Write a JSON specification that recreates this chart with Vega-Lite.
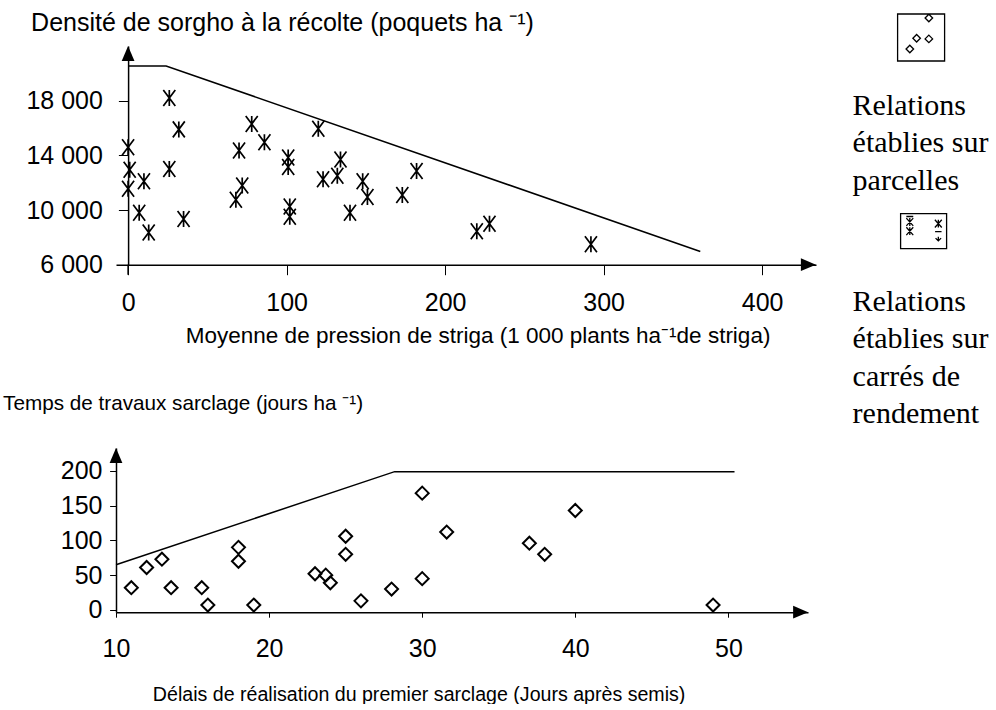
{
  "$schema": "https://vega.github.io/schema/vega-lite/v6.json",
  "background": "white",
  "padding": {"left": 2, "top": 10, "right": 0, "bottom": 0},
  "bounds": "flush",
  "spacing": 183,
  "datasets": {
    "carres": [
      {"pression": 26, "densite": 18200, "source": "carrés de rendement"},
      {"pression": 32, "densite": 15900, "source": "carrés de rendement"},
      {"pression": 0, "densite": 14600, "source": "carrés de rendement"},
      {"pression": 78, "densite": 16300, "source": "carrés de rendement"},
      {"pression": 86, "densite": 14950, "source": "carrés de rendement"},
      {"pression": 70, "densite": 14350, "source": "carrés de rendement"},
      {"pression": 120, "densite": 15950, "source": "carrés de rendement"},
      {"pression": 101, "densite": 13150, "source": "carrés de rendement"},
      {"pression": 101, "densite": 13850, "source": "carrés de rendement"},
      {"pression": 26, "densite": 13000, "source": "carrés de rendement"},
      {"pression": 1, "densite": 12950, "source": "carrés de rendement"},
      {"pression": 10, "densite": 12100, "source": "carrés de rendement"},
      {"pression": 0, "densite": 11550, "source": "carrés de rendement"},
      {"pression": 7, "densite": 9800, "source": "carrés de rendement"},
      {"pression": 13, "densite": 8350, "source": "carrés de rendement"},
      {"pression": 35, "densite": 9350, "source": "carrés de rendement"},
      {"pression": 68, "densite": 10750, "source": "carrés de rendement"},
      {"pression": 72, "densite": 11800, "source": "carrés de rendement"},
      {"pression": 102, "densite": 9500, "source": "carrés de rendement"},
      {"pression": 102, "densite": 10250, "source": "carrés de rendement"},
      {"pression": 132, "densite": 12500, "source": "carrés de rendement"},
      {"pression": 134, "densite": 13700, "source": "carrés de rendement"},
      {"pression": 123, "densite": 12250, "source": "carrés de rendement"},
      {"pression": 140, "densite": 9800, "source": "carrés de rendement"},
      {"pression": 148, "densite": 12100, "source": "carrés de rendement"},
      {"pression": 151, "densite": 10950, "source": "carrés de rendement"},
      {"pression": 182, "densite": 12850, "source": "carrés de rendement"},
      {"pression": 173, "densite": 11100, "source": "carrés de rendement"},
      {"pression": 228, "densite": 9000, "source": "carrés de rendement"},
      {"pression": 220, "densite": 8450, "source": "carrés de rendement"},
      {"pression": 292, "densite": 7500, "source": "carrés de rendement"}
    ],
    "parcelles": [
      {"delai": 11, "temps": 32, "source": "parcelles"},
      {"delai": 12, "temps": 61, "source": "parcelles"},
      {"delai": 13, "temps": 73, "source": "parcelles"},
      {"delai": 13.6, "temps": 32, "source": "parcelles"},
      {"delai": 15.6, "temps": 32, "source": "parcelles"},
      {"delai": 16, "temps": 7, "source": "parcelles"},
      {"delai": 18, "temps": 90, "source": "parcelles"},
      {"delai": 18, "temps": 70, "source": "parcelles"},
      {"delai": 19, "temps": 7, "source": "parcelles"},
      {"delai": 23, "temps": 52, "source": "parcelles"},
      {"delai": 23.7, "temps": 50, "source": "parcelles"},
      {"delai": 24, "temps": 39, "source": "parcelles"},
      {"delai": 25, "temps": 106, "source": "parcelles"},
      {"delai": 25, "temps": 80, "source": "parcelles"},
      {"delai": 26, "temps": 13, "source": "parcelles"},
      {"delai": 28, "temps": 30, "source": "parcelles"},
      {"delai": 30, "temps": 168, "source": "parcelles"},
      {"delai": 30, "temps": 45, "source": "parcelles"},
      {"delai": 31.6, "temps": 112, "source": "parcelles"},
      {"delai": 37, "temps": 96, "source": "parcelles"},
      {"delai": 38, "temps": 80, "source": "parcelles"},
      {"delai": 40, "temps": 143, "source": "parcelles"},
      {"delai": 49, "temps": 7, "source": "parcelles"}
    ],
    "limite_densite": [
      {"pression": 0, "densite": 20540},
      {"pression": 24, "densite": 20540},
      {"pression": 361, "densite": 6970}
    ],
    "limite_temps": [
      {"delai": 10, "temps": 65},
      {"delai": 28.2, "temps": 199},
      {"delai": 50.4, "temps": 199}
    ]
  },
  "vconcat": [
    {
      "width": 700,
      "height": 218.7,
      "layer": [
        {
          "data": {"name": "limite_densite"},
          "mark": {"type": "line", "color": "black", "strokeWidth": 1.5},
          "encoding": {
            "x": {
              "field": "pression", "type": "quantitative",
              "scale": {"domain": [-7.63, 434], "nice": false, "zero": false},
              "axis": {
                "values": [0, 100, 200, 300, 400],
                "tickSize": 10, "labelPadding": 16, "labelFlush": false,
                "title": "Moyenne de pression de striga (1 000 plants ha⁻¹de striga)",
                "titleFontSize": 22.5,
                "titleX": 361.6, "titleY": 78, "titleAlign": "center", "titleBaseline": "alphabetic"
              }
            },
            "y": {
              "field": "densite", "type": "quantitative",
              "scale": {"domain": [6000, 22000], "nice": false, "zero": false},
              "axis": {
                "values": [6000, 10000, 14000, 18000],
                "offset": -12.1, "tickSize": 9.7, "labelPadding": 16, "labelFlush": false,
                "labelExpr": "replace(format(datum.value, ','), ',', ' ')",
                "title": "Densité de sorgho à la récolte (poquets ha ⁻¹)",
                "titleFontSize": 25,
                "titleAngle": 0, "titleX": -97.5, "titleY": -16,
                "titleAlign": "left", "titleBaseline": "alphabetic"
              }
            }
          }
        },
        {
          "data": {"values": [{}]},
          "mark": {"type": "rule", "color": "black", "strokeWidth": 1.5},
          "encoding": {"x": {"datum": 0}, "y": {"datum": 6000}, "y2": {"datum": 5270}}
        },
        {
          "data": {"name": "carres"},
          "mark": {"type": "point", "shape": "M-0.75,-1L0.75,1M-0.75,1L0.75,-1M0,-1L0,1", "size": 256, "filled": false, "strokeWidth": 1.7, "opacity": 1},
          "encoding": {
            "x": {"field": "pression", "type": "quantitative"},
            "y": {"field": "densite", "type": "quantitative"},
            "color": {
              "field": "source", "type": "nominal",
              "scale": {"range": ["black"]},
              "legend": {
                "orient": "none", "legendX": 736.6, "legendY": 161.2, "padding": 0,
                "title": ["Relations", "établies sur", "carrés de", "rendement"],
                "titleOrient": "bottom", "titleAnchor": "start", "titleAlign": "left", "titleBaseline": "top",
                "titleFont": "Liberation Serif", "titleFontSize": 30, "titleFontWeight": "normal", "titleColor": "black",
                "titleLineHeight": 37.3, "titlePadding": 36, "titleLimit": 400,
                "symbolType": "M-1,-0.76H1V0.76H-1Z M-0.75,-0.57L-0.45,-0.23M-0.75,-0.23L-0.45,-0.57M-0.6,-0.57L-0.6,-0.23 M-0.75,-0.17L-0.45,0.17M-0.75,0.17L-0.45,-0.17M-0.6,-0.17L-0.6,0.17 M0.49,-0.5L0.79,-0.16M0.49,-0.16L0.79,-0.5M0.64,-0.5L0.64,-0.16 M0.52,0.3L0.64,0.42L0.76,0.3M0.64,0.24L0.64,0.42 M0.5,0.02H0.78 M-0.75,-0.64H-0.45",
                "symbolSize": 2116, "symbolOffset": 47,
                "symbolStrokeColor": "black", "symbolStrokeWidth": 1.3, "symbolFillColor": "white",
                "labelExpr": "''"
              }
            }
          }
        },
        {
          "data": {"values": [{}]},
          "mark": {"type": "point", "shape": "M-1,-0.85L1,0L-1,0.85Z", "size": 225, "filled": true, "color": "black", "opacity": 1},
          "encoding": {"x": {"datum": 429.2}, "y": {"datum": 6000}}
        },
        {
          "data": {"values": [{}]},
          "mark": {"type": "point", "shape": "M0,-1L0.85,1L-0.85,1Z", "size": 225, "filled": true, "color": "black", "opacity": 1},
          "encoding": {"x": {"datum": 0}, "y": {"datum": 21454}}
        }
      ]
    },
    {
      "width": 692,
      "height": 164.2,
      "layer": [
        {
          "data": {"name": "limite_temps"},
          "mark": {"type": "line", "color": "black", "strokeWidth": 1.5},
          "encoding": {
            "x": {
              "field": "delai", "type": "quantitative",
              "scale": {"domain": [10, 55.2], "nice": false, "zero": false},
              "axis": {
                "values": [10, 20, 30, 40, 50],
                "tickSize": 5, "labelPadding": 19, "labelFlush": false,
                "title": "Délais de réalisation du premier sarclage (Jours après semis)",
                "titleFontSize": 19.6,
                "titleX": 302.6, "titleY": 88, "titleAlign": "center", "titleBaseline": "alphabetic"
              }
            },
            "y": {
              "field": "temps", "type": "quantitative",
              "scale": {"domain": [-3.3, 233], "nice": false, "zero": false},
              "axis": {
                "values": [0, 50, 100, 150, 200],
                "tickSize": 6.4, "labelPadding": 7.6, "labelFlush": false,
                "title": "Temps de travaux sarclage (jours ha ⁻¹)",
                "titleFontSize": 20.7,
                "titleAngle": 0, "titleX": -113.4, "titleY": -39,
                "titleAlign": "left", "titleBaseline": "alphabetic"
              }
            }
          }
        },
        {
          "data": {"name": "parcelles"},
          "mark": {"type": "point", "shape": "diamond", "size": 169, "filled": false, "strokeWidth": 2, "opacity": 1},
          "encoding": {
            "x": {"field": "delai", "type": "quantitative"},
            "y": {"field": "temps", "type": "quantitative"},
            "color": {
              "field": "source", "type": "nominal",
              "scale": {"range": ["black"]},
              "legend": {
                "orient": "none", "legendX": 736.6, "legendY": -435, "padding": 0,
                "title": ["Relations", "établies sur", "parcelles"],
                "titleOrient": "bottom", "titleAnchor": "start", "titleAlign": "left", "titleBaseline": "top",
                "titleFont": "Liberation Serif", "titleFontSize": 30, "titleFontWeight": "normal", "titleColor": "black",
                "titleLineHeight": 37.3, "titlePadding": 27, "titleLimit": 400,
                "symbolType": "M-1,-1H1V1H-1Z M0.33,-0.99L0.49,-0.83L0.33,-0.67L0.17,-0.83Z M-0.19,-0.13L-0.03,0.03L-0.19,0.19L-0.35,0.03Z M0.33,-0.1L0.49,0.06L0.33,0.22L0.17,0.06Z M-0.48,0.33L-0.32,0.49L-0.48,0.65L-0.64,0.49Z",
                "symbolSize": 2209, "symbolOffset": 44,
                "symbolStrokeColor": "black", "symbolStrokeWidth": 1.3, "symbolFillColor": "white",
                "labelExpr": "''"
              }
            }
          }
        },
        {
          "data": {"values": [{}]},
          "mark": {"type": "point", "shape": "M-1,-0.85L1,0L-1,0.85Z", "size": 225, "filled": true, "color": "black", "opacity": 1},
          "encoding": {"x": {"datum": 54.72}, "y": {"datum": -3.3}}
        },
        {
          "data": {"values": [{}]},
          "mark": {"type": "point", "shape": "M0,-1L0.85,1L-0.85,1Z", "size": 225, "filled": true, "color": "black", "opacity": 1},
          "encoding": {"x": {"datum": 10}, "y": {"datum": 222.3}}
        }
      ]
    }
  ],
  "resolve": {"scale": {"color": "independent"}, "legend": {"color": "independent"}},
  "config": {
    "font": "Liberation Sans",
    "view": {"stroke": null},
    "axis": {
      "grid": false,
      "domainColor": "black", "domainWidth": 1.5,
      "tickColor": "black", "tickWidth": 1,
      "labelColor": "black", "labelFont": "Liberation Sans", "labelFontSize": 25,
      "titleColor": "black", "titleFont": "Liberation Sans", "titleFontSize": 21, "titleFontWeight": "normal"
    }
  }
}
